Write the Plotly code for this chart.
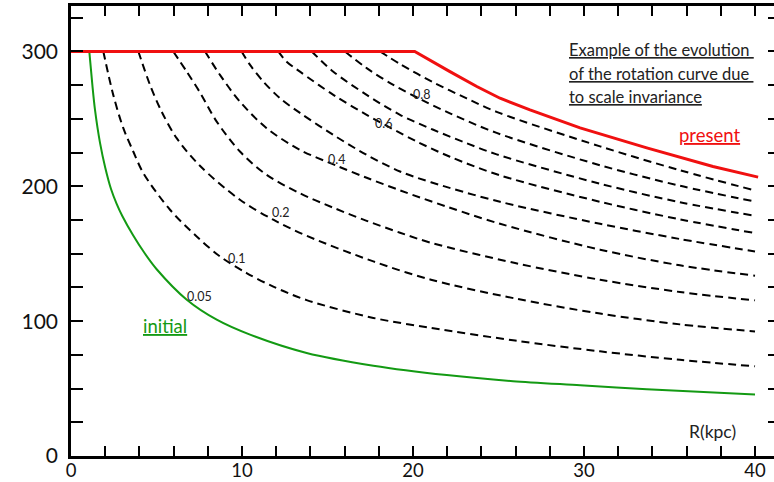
import plotly.graph_objects as go

# ---------------- data ----------------
r_present = [0, 20.1, 22.16, 23.73, 25.09, 26.84, 29.77, 33.67, 37.54, 40.18]
v_present = [300, 300, 285.0, 274.0, 265.3, 256.7, 243.3, 228.5, 214.7, 206.8]

r_initial = [1.07, 1.25, 1.40, 1.70, 2.00, 2.34, 2.67, 3.00, 3.64, 4.30, 5.01, 6.77, 8.52, 10.47, 13.78, 17.68, 21.97, 25.85, 29.77, 33.67, 40.0]
v_initial = [300, 275, 257, 232, 214, 198, 187, 178, 163.5, 150.5, 138.5, 115.9, 101.1, 90.0, 76.4, 67.0, 60.0, 55.5, 52.5, 49.5, 45.6]

r_01 = [1.89, 2.47, 3.06, 3.64, 4.23, 5.79, 7.35, 8.71, 10.27, 11.83, 13.78, 17.68, 21.05, 25.97, 30.94, 35.61, 40.0]
v_01 = [300, 267.8, 243.1, 225.8, 209.8, 182.6, 162.8, 148.0, 135.7, 125.6, 115.6, 102.4, 95.0, 85.6, 77.6, 71.3, 66.5]

r_02 = [3.94, 4.62, 5.30, 6.18, 7.54, 9.88, 11.83, 13.78, 17.68, 21.05, 25.97, 30.94, 35.61, 40.0]
v_02 = [300, 275.2, 255.4, 235.7, 215.2, 190.0, 175.2, 163.3, 144.3, 130.7, 116.8, 105.6, 97.6, 92.4]

r_03 = [5.98, 6.77, 7.54, 8.52, 9.88, 11.44, 13.39, 15.34, 17.29, 19.24, 21.05, 25.97, 30.94, 35.61, 40.0]
v_03 = [300, 285.0, 269.6, 248.0, 225.8, 208.5, 194.8, 184.1, 174.4, 165.6, 158.1, 143.1, 130.7, 121.6, 115.4]

r_04 = [7.84, 8.71, 9.88, 11.44, 13.39, 15.54, 17.29, 19.24, 21.05, 25.09, 30.94, 35.61, 40.0]
v_04 = [300, 282.6, 262.8, 243.1, 227.0, 215.2, 206.3, 197.0, 188.9, 172.2, 153.0, 141.4, 133.7]

r_05 = [9.98, 10.47, 11.25, 12.22, 13.39, 15.34, 17.29, 19.24, 21.05, 25.09, 30.94, 35.61, 40.0]
v_05 = [300, 290.0, 277.6, 265.3, 254.4, 238.1, 223.3, 211.0, 203.0, 188.5, 172.2, 160.9, 151.7]

r_06 = [12.12, 12.61, 13.39, 15.34, 17.29, 20.22, 22.16, 25.09, 30.94, 35.61, 40.0]
v_06 = [300, 292.4, 285.0, 267.8, 253.0, 233.2, 221.9, 208.1, 188.5, 175.5, 165.3]

r_07 = [14.08, 15.34, 17.29, 19.24, 21.19, 23.14, 24.89, 30.94, 35.61, 40.0]
v_07 = [300, 285.0, 267.8, 253.0, 241.9, 231.9, 223.7, 201.9, 188.2, 178.1]

r_08 = [16.02, 17.29, 18.85, 20.51, 22.16, 24.89, 30.94, 35.61, 40.0]
v_08 = [300, 287.6, 275.2, 264.1, 254.1, 239.6, 215.6, 200.4, 188.7]

r_09 = [18.07, 19.24, 21.19, 23.14, 24.89, 30.94, 35.61, 40.0]
v_09 = [300, 290.7, 277.0, 265.2, 255.2, 229.6, 211.9, 196.9]

curve_labels = ["0.05", "0.1", "0.2", "0.4", "0.6", "0.8"]

x_tick_vals = list(range(0, 41, 2))
x_tick_text = [str(v) if v % 10 == 0 else "" for v in x_tick_vals]
y_tick_vals = list(range(0, 326, 25))
y_tick_text = [str(v) if v % 100 == 0 else "" for v in y_tick_vals]

# ---------------- figure ----------------
FONT = "Lato, 'Open Sans', sans-serif"
RED = "#f01010"
GREEN = "#139a13"

fig = go.Figure()

dashed = [(r_01, v_01), (r_02, v_02), (r_03, v_03), (r_04, v_04), (r_05, v_05),
          (r_06, v_06), (r_07, v_07), (r_08, v_08), (r_09, v_09)]
for rr, vv in dashed:
    fig.add_trace(go.Scatter(x=rr, y=vv, mode="lines",
                             line=dict(color="black", width=2, dash="8px,5px",
                                       shape="spline", smoothing=0.9),
                             showlegend=False, hoverinfo="skip"))

fig.add_trace(go.Scatter(x=r_initial, y=v_initial, mode="lines",
                         line=dict(color=GREEN, width=2, shape="spline", smoothing=0.8),
                         showlegend=False, hoverinfo="skip"))
fig.add_trace(go.Scatter(x=r_present, y=v_present, mode="lines",
                         line=dict(color=RED, width=3),
                         showlegend=False, hoverinfo="skip"))
# invisible trace to activate right-hand tick axis
fig.add_trace(go.Scatter(x=[None], y=[None], yaxis="y2", mode="lines",
                         showlegend=False, hoverinfo="skip"))

label_pos = [(7.49, 118.4), (9.69, 146.8), (12.26, 180.9), (15.54, 220.1), (18.26, 246.8), (20.51, 268.3)]
annotations = []
for txt, (lx, ly) in zip(curve_labels, label_pos):
    annotations.append(dict(x=lx, y=ly, text=txt, showarrow=False,
                            font=dict(family=FONT, size=12.5, color="#222"),
                            xanchor="center", yanchor="middle"))

title_lines = ["Example of the evolution ", "of the rotation curve due ", "to scale invariance"]
for i, (t, yy) in enumerate(zip(title_lines, [301.1, 283.3, 266.3])):
    annotations.append(dict(x=29.0, y=yy, text="<u>" + t + "</u>", showarrow=False,
                            font=dict(family=FONT, size=16.5, color="#222"),
                            xanchor="left", yanchor="middle"))

annotations += [
    dict(x=37.33, y=238.1, text="<u>present</u>", showarrow=False,
         font=dict(family=FONT, size=18.5, color=RED), xanchor="center", yanchor="middle"),
    dict(x=5.50, y=96.3, text="<u>initial</u>", showarrow=False,
         font=dict(family=FONT, size=18.5, color=GREEN), xanchor="center", yanchor="middle"),
    dict(x=37.51, y=18.5, text="R(kpc)", showarrow=False,
         font=dict(family=FONT, size=17.5, color="#222"), xanchor="center", yanchor="middle"),
    dict(x=-2.65, y=265.0, text="V<sub>c</sub>", showarrow=False,
         font=dict(family=FONT, size=17, color="#222"), xanchor="center", yanchor="middle"),
    dict(x=-2.02, y=246.3, text="(km s<sup>-1</sup>)", showarrow=False,
         font=dict(family=FONT, size=17, color="#222"), xanchor="center", yanchor="middle"),
]

axis_common = dict(showgrid=False, zeroline=False, automargin=False)

fig.update_layout(
    template="none",
    width=774, height=482,
    margin=dict(l=71, r=0, t=6, b=25.5),
    paper_bgcolor="white", plot_bgcolor="white",
    showlegend=False,
    annotations=annotations,
    xaxis=dict(range=[0, 41.11], showline=True, linecolor="black", linewidth=2.5,
               mirror="ticks", ticks="inside", ticklen=10, tickwidth=2, tickcolor="black",
               tickmode="array", tickvals=x_tick_vals, ticktext=x_tick_text,
               ticklabelstandoff=-4,
               tickfont=dict(family=FONT, size=18.5, color="#111"), **axis_common),
    yaxis=dict(range=[0, 333.7], showline=True, linecolor="black", linewidth=2.5,
               ticks="inside", ticklen=12, tickwidth=2, tickcolor="black",
               tickmode="array", tickvals=y_tick_vals, ticktext=y_tick_text,
               ticklabelstandoff=6,
               tickfont=dict(family=FONT, size=21, color="#111"), **axis_common),
    yaxis2=dict(range=[0, 333.7], overlaying="y", side="right", showline=False,
                ticks="inside", ticklen=6, tickwidth=2, tickcolor="black",
                tickmode="array", tickvals=y_tick_vals, showticklabels=False,
                **axis_common),
)

fig.write_html("out.html",
               config={"displayModeBar": False},
               post_script="document.body.style.margin='0';document.body.style.padding='0';")
